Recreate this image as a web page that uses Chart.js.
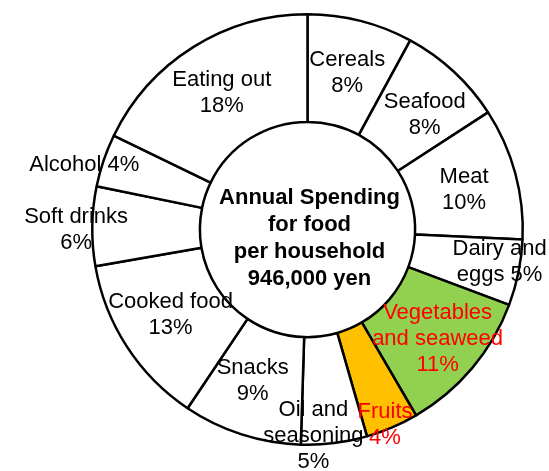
<!DOCTYPE html>
<html>
<head>
<meta charset="utf-8">
<script src="https://cdn.jsdelivr.net/npm/chart.js@4/dist/chart.umd.min.js"></script>
<style>
	html, body { margin: 0; padding: 0; background: #ffffff; }
	#wrap { width: 549px; height: 471px; }
</style>
</head>
<body>
<div id="wrap"><canvas id="foodChart" width="549" height="471"></canvas></div>
<script>
// categories, clockwise from 12 o'clock
var categories = ['Cereals', 'Seafood', 'Meat', 'Dairy and\neggs', 'Vegetables\nand seaweed', 'Fruits',
	'Oil and\nseasoning', 'Snacks', 'Cooked food', 'Soft drinks', 'Alcohol', 'Eating out'];
var shares = [8, 8, 10, 5, 11, 4, 5, 9, 13, 6, 4, 18];
var centerTitle = ['Annual Spending', 'for food', 'per household', '946,000 yen'];

// styling / label placement
var sliceColors = ['#ffffff', '#ffffff', '#ffffff', '#ffffff', '#92d050', '#ffc000',
	'#ffffff', '#ffffff', '#ffffff', '#ffffff', '#ffffff', '#ffffff'];
var textColors = ['#000', '#000', '#000', '#000', '#ff0000', '#ff0000',
	'#000', '#000', '#000', '#000', '#000', '#000'];
var pctSameLine = [false, false, false, true, false, false, false, false, false, false, true, false];
// radial position inside the ring (0 = inner edge, 1 = outer edge) and angle nudge in degrees
var labelRing = [0.5, 0.52, 0.5, 0.81, 0.58, 0.95, 0.92, 0.5, 0.5, 1.15, 1.16, 0.5];
var labelTurn = [0, 3, 1, -2, 0, 1.5, 5.5, 2, 1, -1, -2.5, 0];

var FONT = '"Liberation Sans", Arial, sans-serif';

var labelPlugin = {
	id: 'sliceLabels',
	afterDatasetsDraw: function (chart) {
		var ctx = chart.ctx;
		var meta = chart.getDatasetMeta(0);
		ctx.save();
		ctx.textAlign = 'center';
		ctx.textBaseline = 'middle';
		ctx.font = '22px ' + FONT;
		var cx = 0, cy = 0;
		for (let i = 0; i < meta.data.length; i++) {
			var p = meta.data[i].getProps(['x', 'y', 'startAngle', 'endAngle', 'innerRadius', 'outerRadius'], true);
			cx = p.x; cy = p.y;
			var mid = (p.startAngle + p.endAngle) / 2 + labelTurn[i] * Math.PI / 180;
			var r = p.innerRadius + labelRing[i] * (p.outerRadius - p.innerRadius);
			var lx = p.x + r * Math.cos(mid);
			var ly = p.y + r * Math.sin(mid);
			var lines = categories[i].split('\n');
			if (pctSameLine[i]) {
				lines[lines.length - 1] += ' ' + shares[i] + '%';
			} else {
				lines.push(shares[i] + '%');
			}
			var lh = 26;
			ctx.fillStyle = textColors[i];
			for (let j = 0; j < lines.length; j++) {
				ctx.fillText(lines[j], lx, ly + (j - (lines.length - 1) / 2) * lh);
			}
		}
		// center title
		ctx.font = 'bold 22px ' + FONT;
		ctx.fillStyle = '#000';
		for (let j = 0; j < centerTitle.length; j++) {
			ctx.fillText(centerTitle[j], cx + 2, cy + 9 + (j - (centerTitle.length - 1) / 2) * 27);
		}
		ctx.restore();
	}
};

new Chart(document.getElementById('foodChart'), {
	type: 'doughnut',
	data: {
		labels: categories,
		datasets: [{
			data: shares,
			backgroundColor: sliceColors,
			borderColor: '#000000',
			borderWidth: 2.5,
			hoverOffset: 0
		}]
	},
	options: {
		responsive: false,
		animation: false,
		events: [],
		cutout: '50%',
		layout: { padding: { left: 91, right: 25, top: 13, bottom: 25 } },
		plugins: {
			legend: { display: false },
			tooltip: { enabled: false }
		}
	},
	plugins: [labelPlugin]
});
</script>
</body>
</html>
